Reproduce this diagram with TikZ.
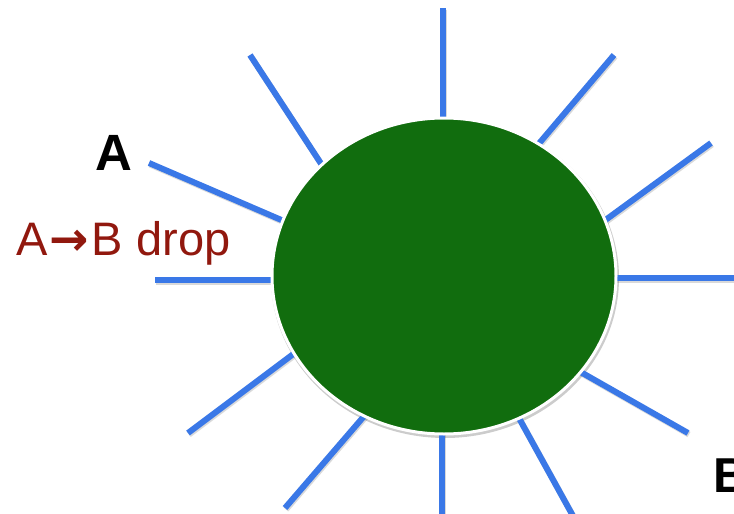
\documentclass[tikz,border=0pt]{standalone}
\usepackage{fontspec}
\setmainfont{Liberation Sans}
\newfontfamily\arrowfont{DejaVu Sans}
\usetikzlibrary{shapes.geometric}
\definecolor{sungreen}{RGB}{17,109,14}
\definecolor{rayblue}{RGB}{58,120,231}
\definecolor{droptext}{RGB}{145,24,14}
\tikzset{
  ray/.style={draw=rayblue, line width=6pt,
    preaction={draw=black, opacity=0.15, line width=6pt, transform canvas={shift={(1pt,-1.5pt)}}}},
  lbl/.style={inner sep=0pt, anchor=base west},
}
\begin{document}
\begin{tikzpicture}[x=1pt,y=-1pt]
\useasboundingbox (0,0) rectangle (734,514);
% shadow of the sun
\fill[black, opacity=0.2] (445,278) ellipse [x radius=174, y radius=160];
% outer and inner ends of the rays
\coordinate (o1) at (443,8);    \coordinate (i1) at (443,140);
\coordinate (o2) at (250,55);   \coordinate (i2) at (335,185);
\coordinate (o3) at (614,55);   \coordinate (i3) at (525,160);
\coordinate (o4) at (711,143);  \coordinate (i4) at (589,232);
\coordinate (o5) at (740,278);  \coordinate (i5) at (600,278);
\coordinate (o6) at (688,433);  \coordinate (i6) at (563,362);
\coordinate (o7) at (573,516);  \coordinate (i7) at (509,400);
\coordinate (o8) at (442,516);  \coordinate (i8) at (442,415);
\coordinate (o9) at (285,508);  \coordinate (i9) at (378,400);
\coordinate (o10) at (188,433); \coordinate (i10) at (312,340);
\coordinate (o11) at (155,280); \coordinate (i11) at (290,280);
\coordinate (o12) at (149,163); \coordinate (i12) at (300,228);
\foreach \k in {1,...,12} { \draw[ray] (o\k) -- (i\k); }
% the sun
\node[ellipse, fill=sungreen, draw=white, line width=3pt, inner sep=0pt,
      minimum width=344, minimum height=316] (sun) at (444,276) {};
% labels
\node[lbl, font=\fontsize{51}{55}\selectfont\bfseries] (la) at (95,170) {A};
\node[lbl, font=\fontsize{47}{51}\selectfont, text=droptext] (drop) at (16,255)
  {A\hspace{2pt}{\arrowfont\bfseries →}\hspace{3pt}B drop};
\node[lbl, font=\fontsize{49}{53}\selectfont\bfseries] (lb) at (713,492) {B};
\end{tikzpicture}
\end{document}
